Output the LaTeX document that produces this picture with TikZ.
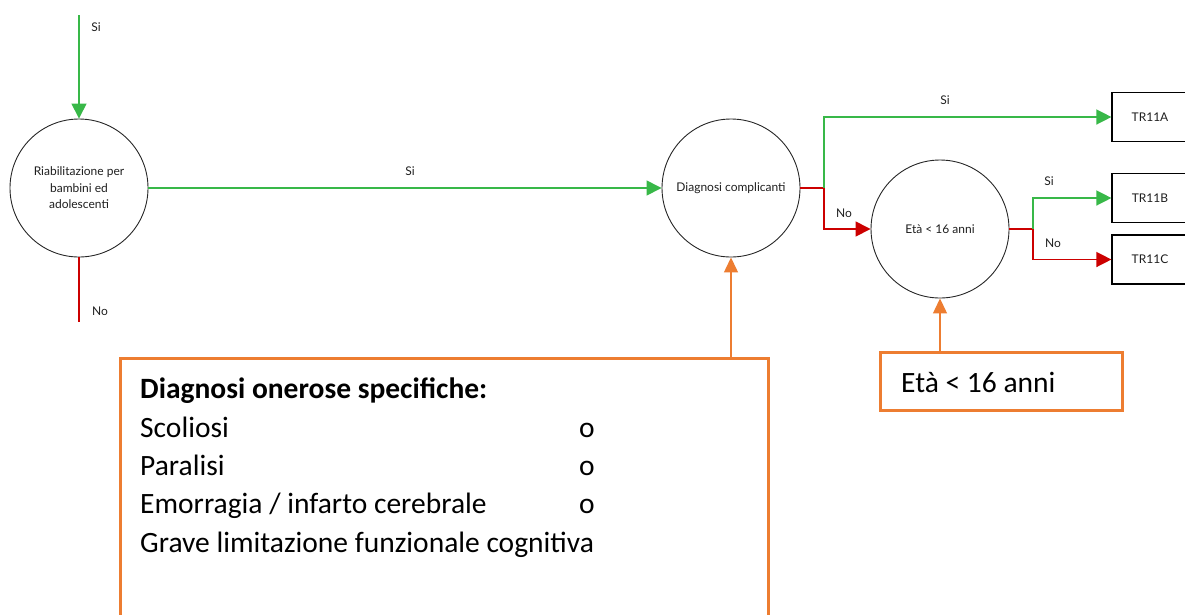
\documentclass[tikz,border=0pt]{standalone}
\usepackage{fontspec}
\setmainfont{Lato}
\newfontfamily\calib{Carlito}
\usetikzlibrary{arrows.meta}
\definecolor{gr}{RGB}{56,184,72}
\definecolor{rd}{RGB}{204,0,0}
\definecolor{org}{RGB}{237,125,49}
\definecolor{ink}{RGB}{30,30,30}
\begin{document}
\begin{tikzpicture}[x=1pt,y=-1pt,
  dec/.style={circle,draw=black!85,line width=0.9pt,minimum size=138pt,inner sep=0pt,align=center,text=ink,font=\fontsize{12}{16.5}\selectfont},
  outbox/.style={draw=black,line width=1.2pt,minimum width=76pt,minimum height=49pt,inner sep=0pt,text=ink,font=\fontsize{12}{14}\selectfont},
  yes/.style={draw=gr,line width=1.4pt},
  no/.style={draw=rd,line width=1.4pt},
  tip/.style={-{Triangle[length=15pt,width=15pt]}},
  otip/.style={draw=org,line width=1.3pt,-{Triangle[length=15pt,width=14pt]}},
  lbl/.style={font=\fontsize{12}{14}\selectfont,inner sep=0pt,text=ink},
  obox/.style={draw=org,line width=3pt},
  big/.style={font=\calib\fontsize{29.5}{34}\selectfont,inner sep=0pt,anchor=base west,text=black},
]
\useasboundingbox (0,0) rectangle (1185,614);
\clip (0,0) rectangle (1185,614);

% decision circles
\node[dec] (c1) at (79,188) {Riabilitazione per\\bambini ed\\adolescenti};
\node[dec] (c2) at (731,188) {Diagnosi complicanti};
\node[dec] (c3) at (940,229) {Età < 16 anni};

% outcome boxes
\node[outbox] (a) at (1150,117) {TR11A};
\node[outbox] (b) at (1150,198) {TR11B};
\node[outbox] (c) at (1150,259.5) {TR11C};

% free ends and junctions
\coordinate (top) at (79,15);
\coordinate (bot) at (79,322);
\coordinate (j1) at (824,188);
\coordinate (j2) at (1033,229);

% connectors
\draw[yes,tip] (top) -- (c1.north);
\draw[no] (c1.south) -- (bot);
\draw[yes,tip] (c1.east) -- (c2.west);
\draw[no] (c2.east) -- (j1);
\draw[yes,tip] (j1) |- (a.west);
\draw[no,tip] (j1) |- (c3.west);
\draw[no] (c3.east) -- (j2);
\draw[yes,tip] (j2) |- (b.west);
\draw[no,tip] (j2) |- (c.west);

% labels
\node[lbl] (l1) at (96,27) {Si};
\node[lbl] (l2) at (100,311) {No};
\node[lbl] (l3) at (410,171) {Si};
\node[lbl] (l4) at (945,100) {Si};
\node[lbl] (l5) at (844,213) {No};
\node[lbl] (l6) at (1049,181) {Si};
\node[lbl] (l7) at (1053,243) {No};

% orange annotation boxes
\node[obox,minimum width=648pt,minimum height=280pt,anchor=north west] (ob) at (119,357) {};
\node[obox,minimum width=242pt,minimum height=58pt,anchor=north west] (sb) at (879,351) {};
\node[big] (st) at (901,392) {Età < 16 anni};

\node[big] (t0) at (140,398) {\bfseries Diagnosi onerose specifiche:};
\node[big] (t1) at (140,437) {Scoliosi};
\node[big] (t2) at (140,475) {Paralisi};
\node[big] (t3) at (140,513) {Emorragia / infarto cerebrale};
\node[big] (t4) at (140,552) {Grave limitazione funzionale cognitiva};
\node[big] (o1) at (579,437) {o};
\node[big] (o2) at (579,475) {o};
\node[big] (o3) at (579,513) {o};

\draw[otip] (ob.north -| c2.south) -- (c2.south);
\draw[otip] (sb.north -| c3.south) -- (c3.south);
\end{tikzpicture}
\end{document}
